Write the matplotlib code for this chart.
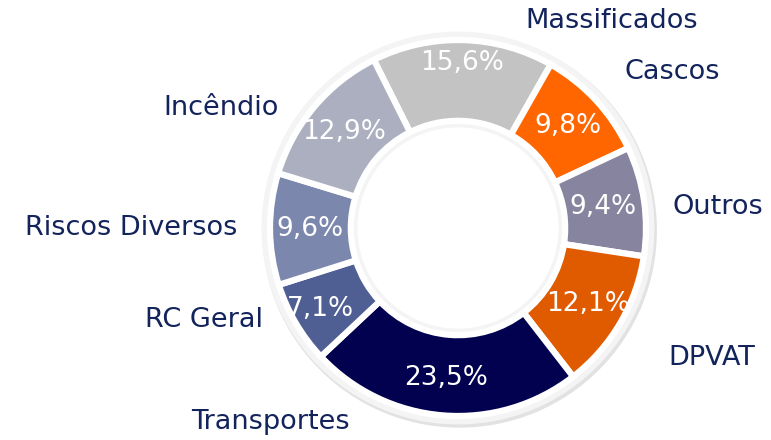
"""Donut chart: distribuição de prêmios por ramo."""

import matplotlib.pyplot as plt
import numpy as np

categories = [
    "Massificados", "Cascos", "Outros", "DPVAT",
    "Transportes", "RC Geral", "Riscos Diversos", "Incêndio",
]
shares = [15.6, 9.8, 9.4, 12.1, 23.5, 7.1, 9.6, 12.9]
colors = [
    "#C3C3C3", "#FF6600", "#86849E", "#E05A00",
    "#010150", "#4F5E93", "#7C87AD", "#ABAFBF",
]

# label anchors, in units of the outer radius (layout only)
label_pos = [
    (0.82, 1.10), (1.14, 0.83), (1.38, 0.11), (1.35, -0.69),
    (-1.00, -1.03), (-1.35, -0.49), (-1.74, 0.00), (-1.26, 0.64),
]
pct_radius = [0.88, 0.80, 0.78, 0.80, 0.80, 0.85, 0.79, 0.79]

TEXT = "#13235B"
R_OUT, R_IN = 1.0, 0.57
XLIM = (-458 / 188, (771 - 458) / 188)
YLIM = (-212 / 188, 228 / 188)

fig = plt.figure(figsize=(7.71, 4.40), dpi=100)
ax = fig.add_axes([0, 0, 1, 1])

# soft shadow and light frame behind the ring
ax.pie([1], radius=1.05, center=(0.008, -0.012), colors=["#E2E2E2"],
       wedgeprops=dict(width=0.08, linewidth=0), frame=True)
ax.pie([1], radius=1.045, colors=["#F4F4F4"],
       wedgeprops=dict(width=1.045 - 0.535, linewidth=0), frame=True)

wedges, _ = ax.pie(
    shares,
    colors=colors,
    startangle=116.6,
    counterclock=False,
    radius=R_OUT,
    wedgeprops=dict(width=R_OUT - R_IN, edgecolor="white", linewidth=4.5),
    frame=True,
)
ax.set_xlim(*XLIM)
ax.set_ylim(*YLIM)
ax.set_aspect("auto")
ax.axis("off")

for w, val, r in zip(wedges, shares, pct_radius):
    ang = np.deg2rad((w.theta1 + w.theta2) / 2)
    ax.text(r * np.cos(ang), r * np.sin(ang), f"{val:.1f}%".replace(".", ","),
            ha="center", va="center", color="white", fontsize=19)

for name, (x, y) in zip(categories, label_pos):
    ax.text(x, y, name, ha="center", va="center", color=TEXT, fontsize=19.5)

fig.savefig("out.png", dpi=100)
